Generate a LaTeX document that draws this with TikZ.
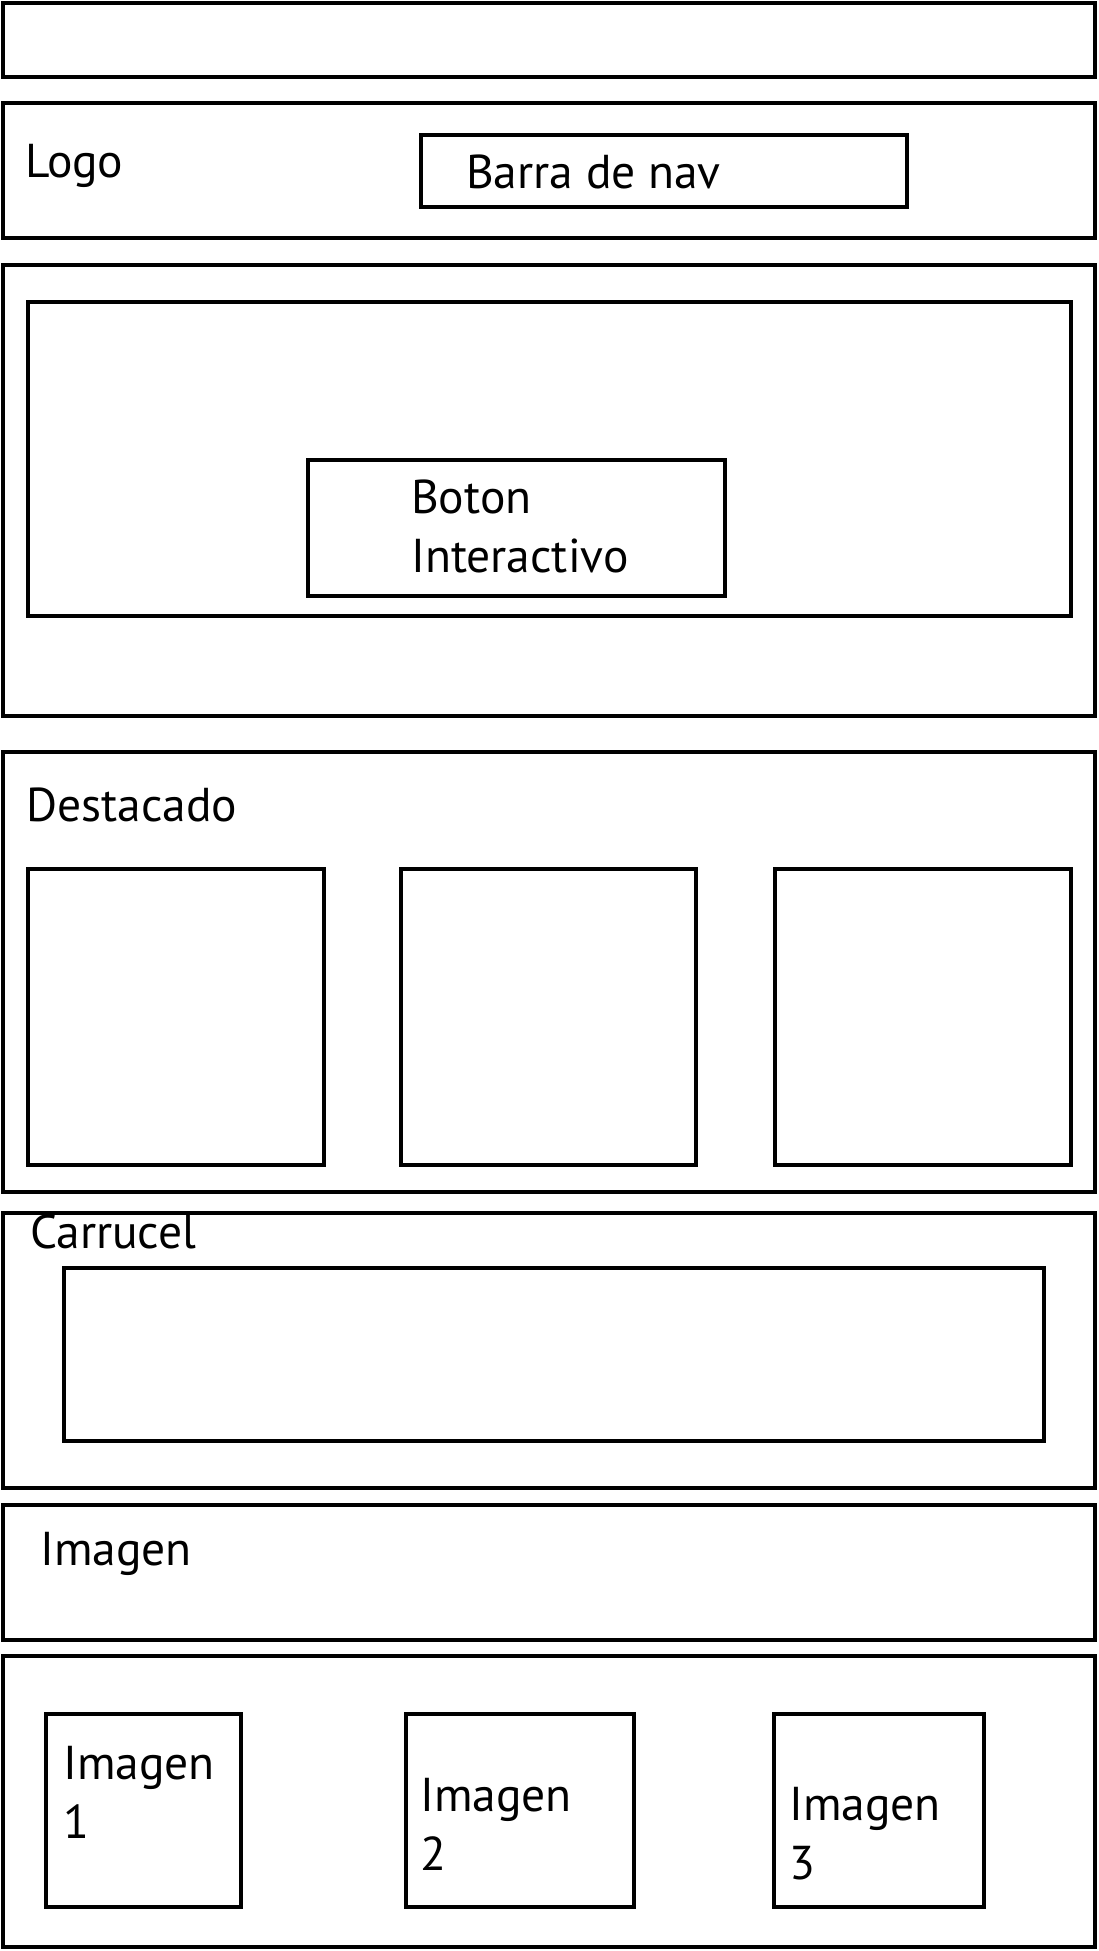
\documentclass[tikz,border=0pt]{standalone}
\usepackage{fontspec}
\setmainfont{PT Sans}
\usepackage{tikz}
\usetikzlibrary{positioning}

\begin{document}
\begin{tikzpicture}[
    x=1pt, y=-1pt,
    section/.style={rectangle, draw=black, line width=3.8pt, minimum width=1092pt, inner sep=0pt},
    block/.style={rectangle, draw=black, line width=3.8pt, inner sep=0pt},
    label/.style={anchor=base west, inner sep=0pt, align=left, font=\fontsize{47.5}{59}\selectfont}
]
    \useasboundingbox (0,0) rectangle (1098,1951);

    % Top strip
    \node[section, minimum height=74pt] (topbar) at (549,40) {};

    % Header with logo and nav bar
    \node[section, minimum height=135pt] (header) at (549,170.5) {};
    \node[block, minimum width=486pt, minimum height=72pt] (navbar) at (664,171) {};
    \node[label] (logo) at (25,177) {Logo};
    \node[label] (navtext) at (466,188) {Barra de nav};

    % Hero with interactive button (base = last line)
    \node[section, minimum height=451pt] (hero) at (549,490.5) {};
    \node[block, minimum width=1043pt, minimum height=314pt] (banner) at (549.5,459) {};
    \node[block, minimum width=417pt, minimum height=136pt] (button) at (516.5,528) {};
    \node[label] (buttontext) at (411,572) {Boton\\Interactivo};

    % Featured cards
    \node[section, minimum height=440pt] (featured) at (549,972) {};
    \node[label] (featuredtext) at (26,821) {Destacado};
    \node[block, minimum width=296pt, minimum height=296pt] (card1) at (176,1017) {};
    \node[block, minimum width=295pt, minimum height=296pt] (card2) at (548.5,1017) {};
    \node[block, minimum width=296pt, minimum height=296pt] (card3) at (923,1017) {};

    % Carousel
    \node[section, minimum height=275pt] (carousel) at (549,1350.5) {};
    \node[block, minimum width=980pt, minimum height=173pt] (slide) at (554,1354.5) {};
    \node[label] (carouseltext) at (30,1248) {Carrucel};

    % Image strip
    \node[section, minimum height=135pt] (image) at (549,1572.5) {};
    \node[label] (imagetext) at (40,1565) {Imagen};

    % Gallery
    \node[section, minimum height=291pt] (gallery) at (549,1801.5) {};
    \node[block, minimum width=195pt, minimum height=193pt] (img1) at (143.5,1810.5) {};
    \node[block, minimum width=228pt, minimum height=193pt] (img2) at (520,1810.5) {};
    \node[block, minimum width=210pt, minimum height=193pt] (img3) at (879,1810.5) {};
    \node[label] (img1text) at (63,1838) {Imagen\\1};
    \node[label] (img2text) at (420,1870) {Imagen\\2};
    \node[label] (img3text) at (789,1879) {Imagen\\3};
\end{tikzpicture}
\end{document}
